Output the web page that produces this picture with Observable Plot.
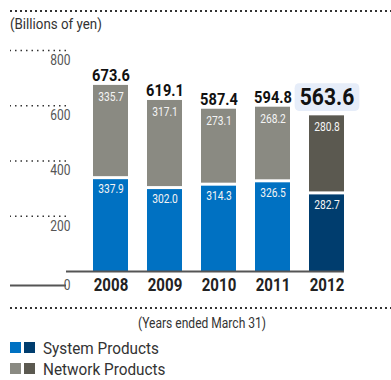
<!DOCTYPE html>
<html>
<head>
<meta charset="utf-8">
<script src="https://cdn.jsdelivr.net/npm/d3@7"></script>
<script src="https://cdn.jsdelivr.net/npm/@observablehq/plot@0.6"></script>
<style>
  body { margin: 0; background: #fff; }
  #wrap { position: relative; width: 391px; height: 380px; overflow: hidden;
    font-family: Roboto, sans-serif; color: #333; }
  .dots { position: absolute; left: 10px; right: 0; height: 2px;
    background-image: linear-gradient(to right, #333 1.6px, transparent 1.6px);
    background-size: 5px 2px; background-repeat: repeat-x; }
  .abs { position: absolute; white-space: nowrap; }
  .nar { display: inline-block; transform: scaleX(0.86); transform-origin: left center; }
  .sq { display: inline-block; width: 11px; height: 11px; margin-right: 3px; vertical-align: middle; }
  #chart { position: absolute; left: 0; top: 40px; }
</style>
</head>
<body>
<div id="wrap">
  <div class="dots" style="top:10px"></div>
  <div class="abs" style="left:10px;top:15px;font-size:15.5px;"><span class="nar">(Billions of yen)</span></div>
  <div id="chart"></div>
  <div class="dots" style="top:307px"></div>
  <div class="abs" style="left:138px;top:315px;font-size:14px;"><span class="nar">(Years ended March 31)</span></div>
  <div class="abs" id="leg1" style="left:10px;top:336px;font-size:17px;line-height:20px;"></div>
  <div class="abs" id="leg2" style="left:10px;top:357px;font-size:17px;line-height:20px;"></div>
</div>
<script>
const years = ["2008", "2009", "2010", "2011", "2012"];
const systemProducts = [337.9, 302.0, 314.3, 326.5, 282.7];
const networkProducts = [335.7, 317.1, 273.1, 268.2, 280.8];
const totals = [673.6, 619.1, 587.4, 594.8, 563.6];
const yTicks = [200, 400, 600, 800];
const seriesNames = ["System Products", "Network Products"];
const systemColors = ["#0071c2", "#003d6e"];
const networkColors = ["#8a8a82", "#5b5950"];

const FONT = 'Roboto, sans-serif';
const latest = years[years.length - 1];

const data = years.map((year, i) => ({
  year,
  system: systemProducts[i],
  network: networkProducts[i],
  total: totals[i]
}));

const plot = Plot.plot({
  width: 391,
  height: 262,
  marginTop: 10,
  marginBottom: 31,
  marginLeft: 66,
  marginRight: 47,
  style: { fontFamily: FONT, background: "transparent", overflow: "visible" },
  x: { domain: years, range: [72.7, 363.2], padding: 0.355, label: null },
  y: { domain: [0, 800], label: null },
  color: { type: "identity" },
  marks: [
    Plot.axisY({ ticks: yTicks, tickSize: 56, tickFormat: () => "", stroke: "#333", strokeWidth: 1.5, strokeDasharray: "1.5,4" }),
    Plot.axisY({ ticks: yTicks, tickSize: 0, tickPadding: -4, dy: 10, fontSize: 14, fill: "#555", label: null }),
    Plot.axisY({ ticks: [0], tickSize: 56, tickPadding: -60, dy: 14, fontSize: 14, fill: "#555", stroke: "#555", strokeWidth: 2, label: null }),
    Plot.barY(data, { x: "year", y1: 0, y2: "system", insetTop: 1.5,
      fill: d => d.year === latest ? systemColors[1] : systemColors[0] }),
    Plot.barY(data, { x: "year", y1: "system", y2: d => d.system + d.network, insetBottom: 1.5,
      fill: d => d.year === latest ? networkColors[1] : networkColors[0] }),
    Plot.ruleY([0], { stroke: "#555", strokeWidth: 2 }),
    Plot.text(data, { x: "year", y: "system", text: d => d.system.toFixed(1), dy: 11, fill: "#f4f4f4", fontSize: 13.5, className: "inner" }),
    Plot.text(data, { x: "year", y: d => d.system + d.network, text: d => d.network.toFixed(1), dy: 11, fill: "#f4f4f4", fontSize: 13.5, className: "inner" }),
    Plot.text(data.filter(d => d.year !== latest), { x: "year", y: "total", text: d => d.total.toFixed(1), dy: -10, fill: "#111", fontSize: 17, fontWeight: "bold" }),
    Plot.text(data.filter(d => d.year === latest), { x: "year", y: "total", text: d => d.total.toFixed(1), dy: -19, fill: "#111", fontSize: 24.5, fontWeight: "bold", className: "latest-total" }),
    Plot.axisX({ tickSize: 0, tickPadding: 7, fontSize: 17.5, fontWeight: "bold", fill: "#222", label: null })
  ]
});
document.getElementById("chart").appendChild(plot);

// condense all svg text horizontally (reference uses a condensed face)
plot.querySelectorAll("text").forEach(t => {
  const inner = t.closest(".inner");
  const s = inner ? 0.76 : 0.86;
  const tr = t.getAttribute("transform") || "";
  t.setAttribute("transform", tr + ` scale(${s},1)`);
});

// light-blue rounded highlight behind the latest total
const t = plot.querySelector(".latest-total text");
if (t) {
  const b = t.getBBox();
  const r = document.createElementNS("http://www.w3.org/2000/svg", "rect");
  r.setAttribute("x", b.x - 6);
  r.setAttribute("y", b.y + 1);
  r.setAttribute("width", b.width + 12);
  r.setAttribute("height", b.height - 1);
  r.setAttribute("rx", 5);
  r.setAttribute("fill", "#e6edf9");
  const tr = t.getAttribute("transform");
  if (tr) r.setAttribute("transform", tr);
  t.parentNode.insertBefore(r, t);
}

function legendRow(el, name, colors) {
  el.innerHTML = colors.map(c => `<span class="sq" style="background:${c}"></span>`).join("") +
    `<span class="nar" style="margin-left:5px;vertical-align:middle;transform:scaleX(0.9)">${name}</span>`;
}
legendRow(document.getElementById("leg1"), seriesNames[0], systemColors);
legendRow(document.getElementById("leg2"), seriesNames[1], networkColors);
</script>
</body>
</html>
